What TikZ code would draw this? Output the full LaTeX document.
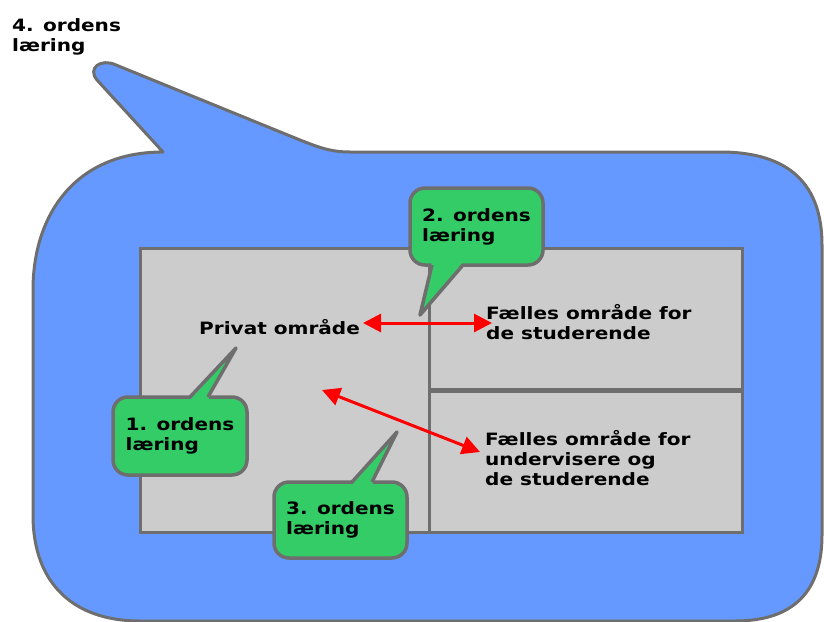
\documentclass[tikz,border=0pt]{standalone}
\usepackage{fontspec}
\newfontfamily\vb{DejaVu Sans Bold}[FakeStretch=1.18]
\usetikzlibrary{arrows.meta}
\definecolor{bblue}{HTML}{6699FF}
\definecolor{cgreen}{HTML}{33CC66}
\definecolor{cgray}{HTML}{CCCCCC}
\definecolor{edge}{HTML}{6E6E6E}
\definecolor{ared}{HTML}{FF0000}
\tikzset{
  lbl/.style={inner sep=0pt, align=left, font=\fontsize{17}{20}\vb},
  greenbox/.style={draw=edge, line width=3.5pt, fill=cgreen, rounded corners=15pt, inner sep=0pt, align=left, font=\fontsize{17}{20}\vb},
  tailfill/.style={fill=cgreen},
  tailline/.style={draw=edge, line width=3.5pt, line join=round},
  area/.style={draw=edge, line width=3pt, fill=cgray},
  link/.style={draw=ared, line width=3pt, {Triangle[length=18pt,width=18pt]}-{Triangle[length=18pt,width=18pt]}}
}
\begin{document}
\begin{tikzpicture}[x=1pt,y=-1pt]
\useasboundingbox (0,0) rectangle (824,621);
\clip (0,0) rectangle (824,621);
% big blue speech bubble
\draw[draw=edge, line width=3pt, fill=bblue, line join=round]
  (163,152) .. controls (75,152) and (33,215) .. (33,290)
  -- (33,515)
  .. controls (33,585) and (75,621) .. (140,621)
  -- (735,621)
  .. controls (795,621) and (822,590) .. (822,535)
  -- (822,245)
  .. controls (822,185) and (790,152) .. (720,152)
  -- (350,152)
  .. controls (330,152) and (318,147) .. (300,140)
  -- (116,65)
  .. controls (101,58) and (87,68) .. (97,80)
  -- cycle;
% areas
\draw[area] (140,248) rectangle (429,532);
\draw[area] (429,248) rectangle (742,389);
\draw[area] (429,391) rectangle (742,532);
% texts
\node[lbl, anchor=north west] (t4) at (12,18) {4. ordens\\læring};
\node[lbl, anchor=base west] (priv) at (199,334) {Privat område};
\node[lbl, anchor=north west] (fs1) at (486,304) {Fælles område for\\de studerende};
\node[lbl, anchor=north west] (fs2) at (485,430) {Fælles område for\\undervisere og\\de studerende};
% arrows
\coordinate (a1) at (363,323);
\coordinate (b1) at (492,323);
\coordinate (a2) at (322,390);
\coordinate (b2) at (480,452);
\draw[link] (a1) -- (b1);
\draw[link] (a2) -- (b2);
% green callouts
\node[greenbox, minimum width=133pt, minimum height=77pt] (g2) at (476.5,226.5) {2. ordens\\læring};
\coordinate (g2tip) at (420,315);
\fill[tailfill] (432,262) -- (g2tip) -- (463,262) -- cycle;
\draw[tailline] (432,265) -- (g2tip) -- (463,265);
\node[greenbox, minimum width=134pt, minimum height=78pt] (g1) at (180,436) {1. ordens\\læring};
\coordinate (g1tip) at (236,348);
\fill[tailfill] (190,400) -- (g1tip) -- (208,400) -- cycle;
\draw[tailline] (190,397) -- (g1tip) -- (208,397);
\node[greenbox, minimum width=133pt, minimum height=76pt] (g3) at (340.5,520) {3. ordens\\læring};
\coordinate (g3tip) at (397,432);
\fill[tailfill] (352,485) -- (g3tip) -- (372,485) -- cycle;
\draw[tailline] (352,482) -- (g3tip) -- (372,482);
\end{tikzpicture}
\end{document}
